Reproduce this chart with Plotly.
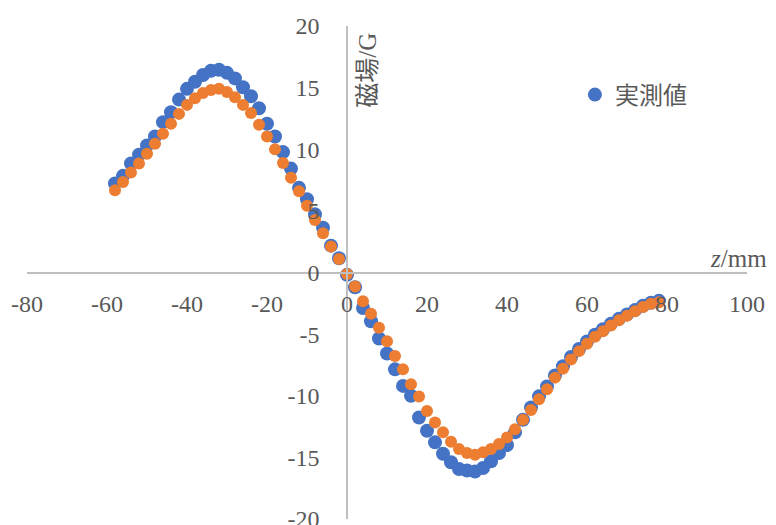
import plotly.graph_objects as go

# Data
z_mm = list(range(-58, 80, 2))
measured = [7.22, 7.84, 8.84, 9.56, 10.31, 11.04, 12.2, 13.0, 14.03, 14.9,
            15.48, 16.02, 16.37, 16.45, 16.2, 15.75, 15.03, 14.3, 13.33, 12.07,
            11.04, 9.77, 8.43, 6.87, 5.95, 4.72, 3.64, 2.18, 1.16, -0.19,
            -1.2, -2.88, -3.96, -5.36, -6.57, -7.86, -9.2, -10.0, -11.76, -12.84,
            -13.78, -14.7, -15.4, -15.94, -16.07, -16.15, -15.86, -15.32, -14.65, -14.0,
            -12.97, -11.95, -10.95, -10.05, -9.25, -8.35, -7.6, -6.85, -6.2, -5.6,
            -5.05, -4.6, -4.15, -3.75, -3.4, -3.05, -2.7, -2.45, -2.3]
theory = [6.68, 7.35, 8.11, 8.84, 9.64, 10.45, 11.26, 12.07, 12.87, 13.6,
          14.14, 14.57, 14.81, 14.9, 14.65, 14.22, 13.6, 12.95, 11.98, 11.04,
          9.99, 8.89, 7.68, 6.6, 5.41, 4.26, 3.18, 2.1, 1.1, -0.13,
          -1.13, -2.34, -3.34, -4.49, -5.57, -6.78, -7.86, -9.07, -10.07, -11.23,
          -12.17, -12.97, -13.73, -14.32, -14.65, -14.78, -14.59, -14.32, -13.92, -13.38,
          -12.71, -11.95, -11.15, -10.28, -9.47, -8.53, -7.8, -7.05, -6.38, -5.79,
          -5.22, -4.76, -4.3, -3.88, -3.5, -3.15, -2.8, -2.53, -2.42]
x_ticks = [-80, -60, -40, -20, 0, 20, 40, 60, 80, 100]
y_ticks = [-20, -15, -10, -5, 0, 5, 10, 15, 20]
legend_name = "実測値"
x_title = "<i>z</i>/mm"
y_title = "磁場/G"

FONT = "Liberation Serif, Noto Sans CJK JP, serif"
GRAY = "#595959"
AXIS = "#BFBFBF"

fig = go.Figure()
fig.add_trace(go.Scatter(x=z_mm, y=measured, mode="markers", name=legend_name,
                         marker=dict(color="#4472C4", size=14)))
fig.add_trace(go.Scatter(x=z_mm, y=theory, mode="markers", name="理論値", showlegend=False,
                         marker=dict(color="#ED7D31", size=12)))

fig.update_layout(
    template="none",
    width=768, height=517,
    margin=dict(l=19, r=29, t=18, b=6, pad=0),
    paper_bgcolor="white", plot_bgcolor="white",
    font=dict(family=FONT, color=GRAY, size=22),
    showlegend=True,
    legend=dict(x=0.761, y=0.86, xanchor="left", yanchor="middle",
                bgcolor="rgba(0,0,0,0)", font=dict(size=24, color=GRAY)),
    xaxis=dict(range=[-80, 100], tickvals=x_ticks, ticktext=[str(v) for v in x_ticks],
               showgrid=False, zeroline=False, automargin=False,
               showline=True, linecolor=AXIS, linewidth=1.5, ticklabeloverflow="allow",
               anchor="free", position=0.5, ticks="", ticklabelstandoff=10,
               tickfont=dict(size=24, color=GRAY, family=FONT)),
    yaxis=dict(range=[-20, 20], tickvals=y_ticks, ticktext=[str(v) for v in y_ticks],
               showgrid=False, zeroline=False, automargin=False,
               showline=True, linecolor=AXIS, linewidth=1.5, ticklabeloverflow="allow",
               anchor="free", position=80/180, ticks="", ticklabelstandoff=22,
               tickfont=dict(size=24, color=GRAY, family=FONT)),
    annotations=[
        dict(text=x_title, x=97.8, y=1.1, xref="x", yref="y", showarrow=False,
             xanchor="center", yanchor="middle", font=dict(size=25, color=GRAY, family=FONT)),
        dict(text=y_title, x=5.1, y=16.4, xref="x", yref="y", showarrow=False,
             textangle=-90, xanchor="center", yanchor="middle",
             font=dict(size=25, color=GRAY, family=FONT)),
    ],
)

fig.write_html("out.html")
